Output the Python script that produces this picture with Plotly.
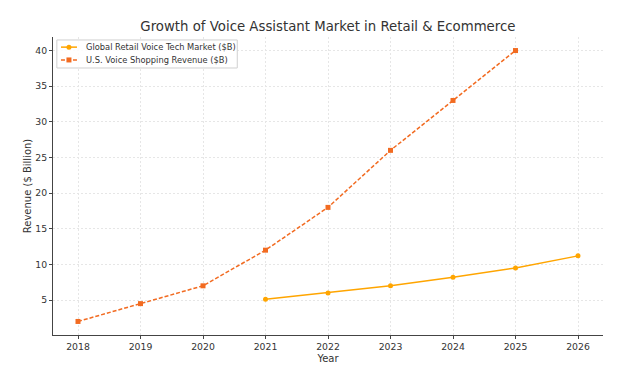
import plotly.graph_objects as go

years_global = [2021, 2022, 2023, 2024, 2025, 2026]
global_market = [5.1, 6.0, 7.0, 8.2, 9.5, 11.2]
years_us = [2018, 2019, 2020, 2021, 2022, 2023, 2024, 2025]
us_revenue = [2.0, 4.5, 7.0, 12.0, 18.0, 26.0, 33.0, 40.0]
x_ticks = [2018, 2019, 2020, 2021, 2022, 2023, 2024, 2025, 2026]
y_ticks = [5, 10, 15, 20, 25, 30, 35, 40]
series_names = ["Global Retail Voice Tech Market ($B)", "U.S. Voice Shopping Revenue ($B)"]
c_global = "#FFA500"
c_us = "#F26B21"

fig = go.Figure()
fig.add_trace(go.Scatter(
    x=years_global, y=global_market, mode="lines+markers", name=series_names[0],
    line=dict(color=c_global, width=1.5),
    marker=dict(symbol="circle", size=5, color=c_global),
))
fig.add_trace(go.Scatter(
    x=years_us, y=us_revenue, mode="lines+markers", name=series_names[1],
    line=dict(color=c_us, width=1.5, dash="4px,2px"),
    marker=dict(symbol="square", size=5, color=c_us),
))

# custom compact legend (paper coords of the plot area)
shapes = [dict(type="rect", xref="paper", yref="paper", x0=0.007, x1=0.335, y0=0.896, y1=0.99,
               line=dict(color="#d0d0d0", width=1), fillcolor="rgba(255,255,255,0.85)", layer="above")]
annotations = []
rows = [(0.966, c_global, "circle", "solid"), (0.923, c_us, "square", "4px,2px")]
for (yy, col, sym, dash), name in zip(rows, series_names):
    shapes.append(dict(type="line", xref="paper", yref="paper", x0=0.0145, x1=0.0436, y0=yy, y1=yy,
                       line=dict(color=col, width=1.5, dash=dash), layer="above"))
    shapes.append(dict(type="circle" if sym == "circle" else "rect", xref="paper", yref="paper",
                       xsizemode="pixel", ysizemode="pixel", xanchor=0.029, yanchor=yy,
                       x0=-2.5, x1=2.5, y0=-2.5, y1=2.5, fillcolor=col, line=dict(width=0), layer="above"))
    annotations.append(dict(xref="paper", yref="paper", x=0.056, y=yy, xanchor="left", yanchor="middle",
                            text=name, showarrow=False, font=dict(size=8.3, color="#333333")))

font = "DejaVu Sans, sans-serif"
fig.update_layout(
    width=620, height=360,
    margin=dict(l=45, r=25, t=29, b=33),
    paper_bgcolor="white", plot_bgcolor="white",
    font=dict(family=font, size=9.3, color="#333333"),
    title=dict(text="Growth of Voice Assistant Market in Retail & Ecommerce",
               x=0.516, xanchor="center", y=1 - 18 / 360, yanchor="middle",
               font=dict(size=13.3, color="#333333")),
    showlegend=False,
    shapes=shapes, annotations=annotations,
)
fig.update_xaxes(
    range=[2017.6, 2026.4], tickmode="array", tickvals=x_ticks,
    ticktext=[str(v) for v in x_ticks], automargin=False,
    showgrid=True, gridcolor="#e6e6e6", griddash="2px,2px", gridwidth=0.8,
    showline=True, linecolor="#444444", linewidth=1,
    ticks="outside", ticklen=3, tickcolor="#444444",
    title=dict(text="Year", font=dict(size=10), standoff=3),
    zeroline=False,
)
fig.update_yaxes(
    range=[0.1, 41.9], tickmode="array", tickvals=y_ticks, automargin=False,
    showgrid=True, gridcolor="#e6e6e6", griddash="2px,2px", gridwidth=0.8,
    showline=True, linecolor="#444444", linewidth=1,
    ticks="outside", ticklen=3, tickcolor="#444444",
    title=dict(text="Revenue ($ Billion)", font=dict(size=10), standoff=1),
    zeroline=False,
)
fig.write_html("out.html")
